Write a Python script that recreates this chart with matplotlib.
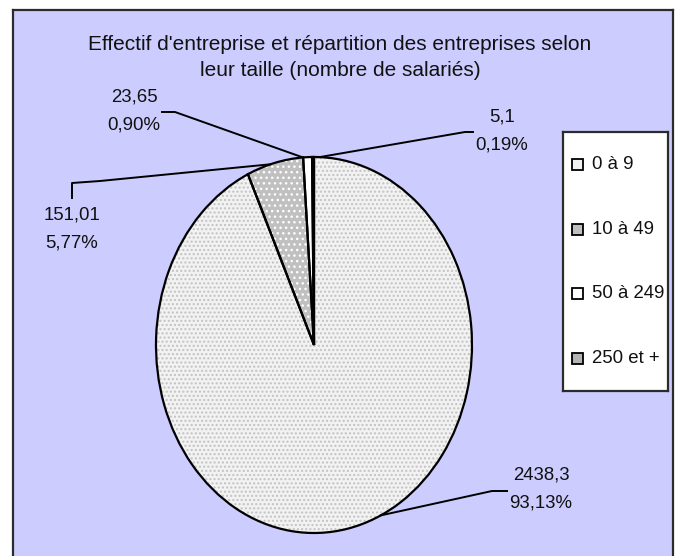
import numpy as np
import matplotlib as mpl
import matplotlib.pyplot as plt
from matplotlib.patches import Rectangle

mpl.rcParams.update({
    "font.family": ["Liberation Sans", "DejaVu Sans"],
    "hatch.linewidth": 1.0,
})

# Data
categories = ["0 à 9", "10 à 49", "50 à 249", "250 et +"]
effectifs = [2438.3, 151.01, 23.65, 5.1]
title_lines = ["Effectif d'entreprise et répartition des entreprises selon",
               "leur taille (nombre de salariés)"]

# Style
BG = "#ccccff"
face = ["#f2f2f2", "#c0c0c0", "#ffffff", "#b4b4b4"]
dots = ["#c2c2c2", "#ffffff", "#ffffff", "#dcdcdc"]
hatches = ["....", "...", "", "..."]
TXT = "#111111"
FS = 13.4

W, H = 680, 556

# Layout (pixels of the final picture)
cx, cy, ra, rb = 314, 345, 158, 188            # pie ellipse
label_xy = [(541, 489), (72, 229), (134, 111), (502, 131)]
leader_angle = [-65, 106, 94, 88]
leader_path = [[(492, 491), (507, 491)],
               [(100, 181), (72, 183), (72, 198)],
               [(175, 112), (162, 112)],
               [(465, 132), (473, 132)]]


def fr(v):
    return f"{v:g}".replace(".", ",")


def to_data(px, py):
    return (px - cx) / ra, (cy - py) / rb


fig = plt.figure(figsize=(W / 100, H / 100), dpi=100)
fig.patch.set_facecolor("white")

# Plot area
ax_bg = fig.add_axes([13 / W, 0, 660 / W, (H - 10) / H])
ax_bg.set_facecolor(BG)
ax_bg.set_xticks([])
ax_bg.set_yticks([])
for name, sp in ax_bg.spines.items():
    sp.set_color("#2b2b2b")
    sp.set_linewidth(1.6)
ax_bg.spines["bottom"].set_visible(False)

# Title
fig.text(340 / W, 1 - 45 / H, title_lines[0], ha="center", va="center",
         fontsize=15, color=TXT)
fig.text(340 / W, 1 - 71 / H, title_lines[1], ha="center", va="center",
         fontsize=15, color=TXT)

# Pie (elliptical, like the original)
ax = fig.add_axes([(cx - ra) / W, 1 - (cy + rb) / H, 2 * ra / W, 2 * rb / H])
wedges, _ = ax.pie(effectifs, startangle=90, counterclock=False, colors=face,
                   wedgeprops=dict(linewidth=0))
for w, h, dc in zip(wedges, hatches, dots):
    w.set_hatch(h)
    w.set_edgecolor(dc)
    w.set_clip_on(False)
outline, _ = ax.pie(effectifs, startangle=90, counterclock=False,
                    wedgeprops=dict(fill=False, edgecolor="black", linewidth=1.6))
for w in outline:
    w.set_clip_on(False)
ax.set_aspect("auto")
ax.set_xlim(-1, 1)
ax.set_ylim(-1, 1)
ax.axis("off")

# Data labels with leader lines
total = sum(effectifs)
for i, v in enumerate(effectifs):
    pct = f"{100 * v / total:.2f}%".replace(".", ",")
    lx, ly = label_xy[i]
    ax.text(*to_data(lx, ly - 14), fr(v), ha="center", va="center",
            fontsize=FS, color=TXT, clip_on=False)
    ax.text(*to_data(lx, ly + 14), pct, ha="center", va="center",
            fontsize=FS, color=TXT, clip_on=False)
    th = np.deg2rad(leader_angle[i])
    pts = [(np.cos(th), np.sin(th))] + [to_data(*p) for p in leader_path[i]]
    xs, ys = zip(*pts)
    ax.plot(xs, ys, color="black", lw=1.4, clip_on=False, zorder=5)

# Legend
lx0, ly0, lw, lh = 563, 132, 105, 259
ax_leg = fig.add_axes([lx0 / W, 1 - (ly0 + lh) / H, lw / W, lh / H])
ax_leg.set_facecolor("white")
ax_leg.set_xlim(0, lw)
ax_leg.set_ylim(lh, 0)
ax_leg.set_xticks([])
ax_leg.set_yticks([])
for sp in ax_leg.spines.values():
    sp.set_color("#2b2b2b")
    sp.set_linewidth(1.6)
row = lh / len(categories)
for i, cat in enumerate(categories):
    yc = (i + 0.5) * row
    ax_leg.add_patch(Rectangle((9, yc - 5.5), 11, 11, facecolor=face[i],
                               edgecolor="black", linewidth=1.3))
    ax_leg.text(29, yc, cat, ha="left", va="center", fontsize=FS, color=TXT)

fig.savefig("out.png", dpi=100, facecolor=fig.get_facecolor())
